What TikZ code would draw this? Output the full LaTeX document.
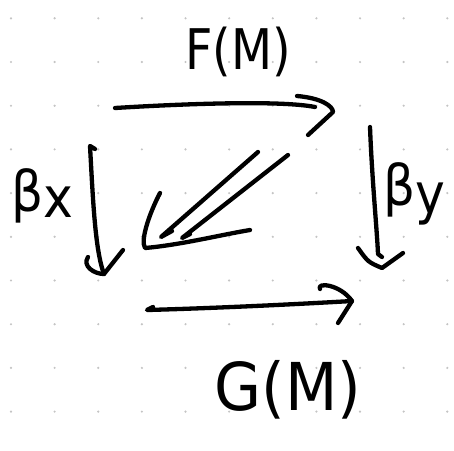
\documentclass[tikz,border=0pt]{standalone}
\usepackage{fontspec}
\setmainfont{DejaVu Sans}
\usetikzlibrary{calc}
\definecolor{dotgray}{RGB}{196,196,196}
\tikzset{
  ink/.style={line width=4.3pt, line cap=round, line join=round, black},
  hand/.style={inner sep=0pt, font=\fontsize{56}{60}\selectfont},
  bighand/.style={inner sep=0pt, font=\fontsize{66}{70}\selectfont},
  dotmark/.style={fill=dotgray}
}
\begin{document}
\begin{tikzpicture}[x=1pt, y=-1pt]
  \useasboundingbox[fill=white] (0,0) rectangle (454,450);
  % dotted grid paper
  \foreach \i in {0,...,10}
    \foreach \j in {0,...,9}
      \fill[dotmark] ({11+43.63*\i},{18.3+43.7*\j}) circle (1.2);

  % arrow end points
  \coordinate (Ttop) at (115,108);  \coordinate (Htop) at (333,112);
  \coordinate (Tlft) at (90,146);   \coordinate (Hlft) at (104,274);
  \coordinate (Trgt) at (370,127);  \coordinate (Hrgt) at (382,268);
  \coordinate (Tbot) at (147,310);  \coordinate (Hbot) at (352,301);
  \coordinate (Tdg1) at (258,152);  \coordinate (Tdg2) at (288,155);
  \coordinate (Hdg)  at (145,248);

  % top arrow F(M)
  \draw[ink] (Ttop) .. controls (180,104) and (280,100) .. (315,107);
  \draw[ink] ($(Htop)+(-36,-16)$) .. controls ($(Htop)+(-12,-14)$) and ($(Htop)+(0,-6)$) .. (Htop) -- ($(Htop)+(-25,23)$);

  % left arrow
  \draw[ink] ($(Tlft)+(5,3)$) -- (Tlft) .. controls (93,200) and (95,250) .. (Hlft);
  \draw[ink] ($(Hlft)+(-16,-17)$) .. controls ($(Hlft)+(-22,-8)$) and ($(Hlft)+(-10,0)$) .. (Hlft) -- ($(Hlft)+(19,-24)$);

  % right arrow
  \draw[ink] (Trgt) .. controls (372,180) and (377,230) .. (378,254) -- (382,257);
  \draw[ink] (358,248) .. controls (368,262) .. (Hrgt) -- (403,253);

  % bottom arrow G(M)
  \draw[ink] ($(Tbot)+(6,-3)$) -- (Tbot) .. controls (220,308) and (300,304) .. (Hbot);
  \draw[ink] (320,289) .. controls (316,282) and (340,284) .. (Hbot) -- (338,323);

  % diagonal double arrow
  \draw[ink] (Tdg1) -- (161,237) -- (172,231);
  \draw[ink] (Tdg2) -- (182,238) -- (190,234);
  \draw[ink] (160,193) .. controls (150,212) and (140,240) .. (Hdg)
             .. controls (180,245) and (220,235) .. (250,230);

  % labels
  \node[hand, xscale=0.85] (lF) at (238,52) {F(M)};
  \node[bighand, xscale=0.92] (lG) at (288,390) {G(M)};
  \node[hand, xscale=0.9] (lbx) at (42,196) {β\raisebox{-0.1em}{x}};
  \node[hand, xscale=0.9] (lby) at (414,194) {β\raisebox{-0.15em}{y}};
\end{tikzpicture}
\end{document}
